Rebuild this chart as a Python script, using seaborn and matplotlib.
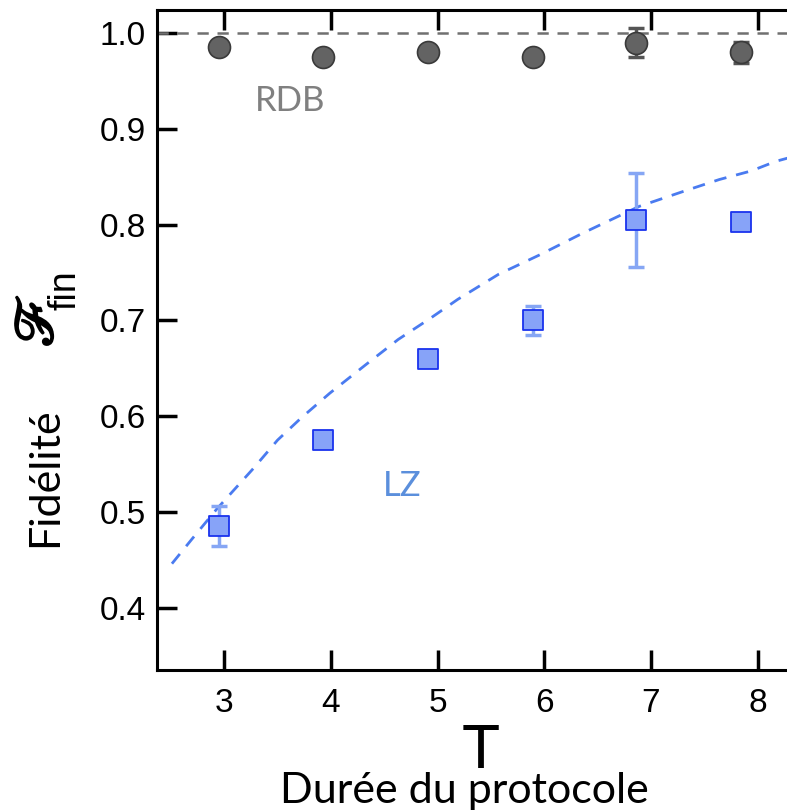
import numpy as np
import pandas as pd
import matplotlib
matplotlib.use("Agg")
import matplotlib.pyplot as plt
import matplotlib.patheffects as pe
import seaborn as sns

# protocol durations (shared by both series)
T = [2.95, 3.93, 4.91, 5.89, 6.86, 7.84]

# RDB fidelity (grey circles)
rdb = [0.985, 0.975, 0.980, 0.975, 0.990, 0.980]
rdb_err = [0.0, 0.0, 0.0, 0.0, 0.015, 0.011]

# LZ fidelity (blue squares)
lz = [0.485, 0.575, 0.660, 0.700, 0.805, 0.803]
lz_err = [0.021, 0.0, 0.0, 0.015, 0.049, 0.0]

# dashed LZ model curve
curve_T = [2.51, 2.70, 2.93, 3.27, 3.50, 3.72, 3.99, 4.33, 4.63, 4.93,
           5.19, 5.57, 5.95, 6.36, 6.89, 7.34, 7.64, 7.94, 8.17, 8.50]
curve_F = [0.446, 0.472, 0.503, 0.545, 0.575, 0.598, 0.624, 0.654, 0.680, 0.702,
           0.722, 0.748, 0.768, 0.791, 0.819, 0.836, 0.847, 0.856, 0.866, 0.876]

xticks = [3, 4, 5, 6, 7, 8]
yticks = [0.4, 0.5, 0.6, 0.7, 0.8, 0.9, 1.0]

sns.set_style("ticks", {"axes.edgecolor": "black", "xtick.color": "black",
                        "ytick.color": "black", "text.color": "black"})
plt.rcParams["font.family"] = ["Liberation Sans", "DejaVu Sans"]
plt.rcParams["mathtext.fontset"] = "stix"

df_rdb = pd.DataFrame({"T": T, "F": rdb})
df_lz = pd.DataFrame({"T": T, "F": lz})
df_curve = pd.DataFrame({"T": curve_T, "F": curve_F})

fig = plt.figure(figsize=(7.87, 8.10), dpi=100)
ax = fig.add_axes([157 / 787, 140 / 810, 654 / 787, 660 / 810])

ax.axhline(1.0, color="#707070", lw=1.8, linestyle=(0, (4.5, 3.5)), zorder=1)

sns.lineplot(data=df_curve, x="T", y="F", ax=ax, color="#4a7bf0", lw=2.0,
             linestyle=(0, (4.5, 3.6)), zorder=2)

ax.errorbar(T, rdb, yerr=rdb_err, fmt="none", ecolor="#555555",
            elinewidth=2.5, capsize=5.8, capthick=2.5, zorder=3)
ax.errorbar(T, lz, yerr=lz_err, fmt="none", ecolor="#86a6f4",
            elinewidth=2.5, capsize=5.8, capthick=2.5, zorder=3)

sns.scatterplot(data=df_rdb, x="T", y="F", ax=ax, marker="o", s=250,
                color="#636363", edgecolor="#3a3a3a", linewidth=1.2, zorder=4)
sns.scatterplot(data=df_lz, x="T", y="F", ax=ax, marker="s", s=228,
                color="#87a3f8", edgecolor="#1a33ee", linewidth=1.3, zorder=4)

ax.text(3.62, 0.929, "RDB", color="#808080", fontsize=25, family=["Lato", "DejaVu Sans"],
        ha="center", va="center")
ax.text(4.67, 0.527, "LZ", color="#5b8fdc", fontsize=25, family=["Lato", "DejaVu Sans"],
        ha="center", va="center")

ax.set_xlim(2.37, 8.50)
ax.set_ylim(0.335, 1.024)
ax.set_xticks(xticks)
ax.set_yticks(yticks)
ax.set_xticklabels([str(v) for v in xticks])
ax.set_yticklabels(["%.1f" % v for v in yticks])
ax.set_xlabel("")
ax.set_ylabel("")

ax.tick_params(direction="in", length=14.4, width=2.5, labelsize=24,
               top=True, right=True)
ax.tick_params(axis="x", pad=13)
ax.tick_params(axis="y", pad=8)
for s in ax.spines.values():
    s.set_linewidth(2.2)

# axis titles
fig.text(481 / 787, 42 / 810, "T", fontsize=45, ha="center", va="baseline")
fig.text(464 / 787, 7 / 810, "Durée du protocole", fontsize=31,
         family=["Lato", "DejaVu Sans"], ha="center", va="baseline")
fig.text(45 / 787, 1 - 477 / 810, "Fidélité", fontsize=31, rotation=90,
         family=["Lato", "DejaVu Sans"], ha="center", va="center")
fig.text(39 / 787, 1 - 321 / 810, r"$\mathscr{F}$", fontsize=40, rotation=90,
         ha="center", va="center",
         path_effects=[pe.withStroke(linewidth=1.6, foreground="black")])
fig.text(65 / 787, 1 - 290 / 810, "fin", fontsize=27, rotation=90,
         ha="center", va="center")

plt.savefig("out.png", dpi=100)
